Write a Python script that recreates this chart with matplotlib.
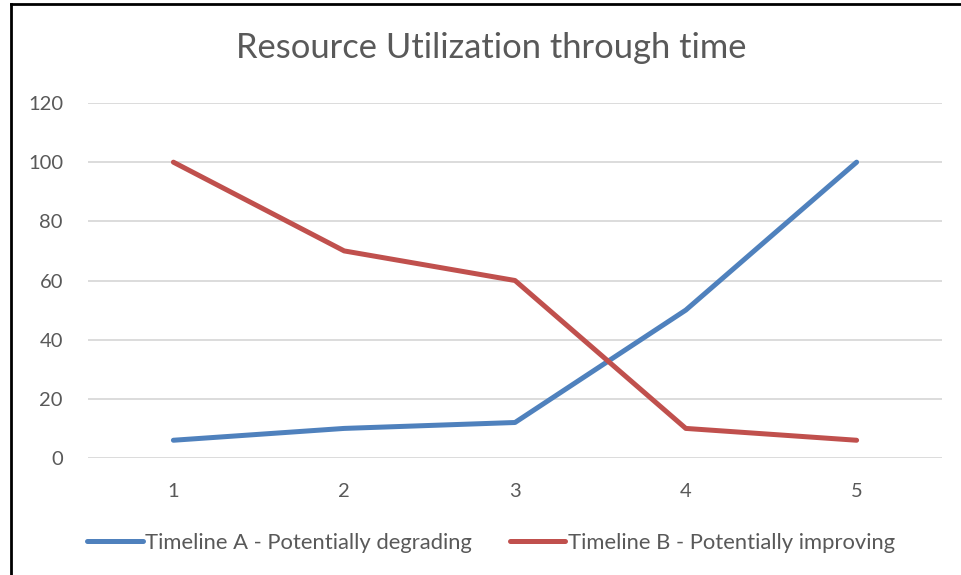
import matplotlib
matplotlib.use("Agg")
import matplotlib.pyplot as plt
from matplotlib.lines import Line2D

x_vals = [1, 2, 3, 4, 5]
series_a = [6, 10, 12, 50, 100]
series_b = [100, 70, 60, 10, 6]
label_a = "Timeline A - Potentially degrading"
label_b = "Timeline B - Potentially improving"
title = "Resource Utilization through time"
y_ticks = [0, 20, 40, 60, 80, 100, 120]

plt.rcParams['font.family'] = ['Lato', 'DejaVu Sans']
txt = '#595959'

fig = plt.figure(figsize=(9.61, 5.75), dpi=100)
ax = fig.add_axes([88/961, 1-458/575, (942-88)/961, (458-103)/575])

ax.plot(x_vals, series_a, color='#4F81BD', lw=3.6, solid_capstyle='round', solid_joinstyle='round', label=label_a)
ax.plot(x_vals, series_b, color='#C0504D', lw=3.6, solid_capstyle='round', solid_joinstyle='round', label=label_b)

ax.set_xlim(0.5, 5.5)
ax.set_ylim(0, 120)
ax.set_yticks(y_ticks)
ax.set_xticks(x_vals)
ax.set_xticklabels([str(v) for v in x_vals])
ax.grid(axis='y', color='#D9D9D9', lw=1.3)
ax.set_axisbelow(True)
for s in ax.spines.values():
    s.set_visible(False)
ax.tick_params(axis='both', length=0, labelsize=14.5, colors=txt)
ax.tick_params(axis='y', pad=18)
ax.tick_params(axis='x', pad=18)

fig.text(491/961, 1-48/575, title, ha='center', va='center', fontsize=24.8, color=txt)

leg = fig.legend(loc='center', bbox_to_anchor=(491/961, 1-543/575), ncol=2, frameon=False,
                 fontsize=15.8, handlelength=2.55, handletextpad=0.12, columnspacing=1.7)
for t in leg.get_texts():
    t.set_color(txt)

fig.add_artist(Line2D([11/961, 11/961], [0, 1-4/575], transform=fig.transFigure, color='black', lw=2))
fig.add_artist(Line2D([11/961, 1], [1-4/575, 1-4/575], transform=fig.transFigure, color='black', lw=2))

fig.savefig('out.png', dpi=100)
